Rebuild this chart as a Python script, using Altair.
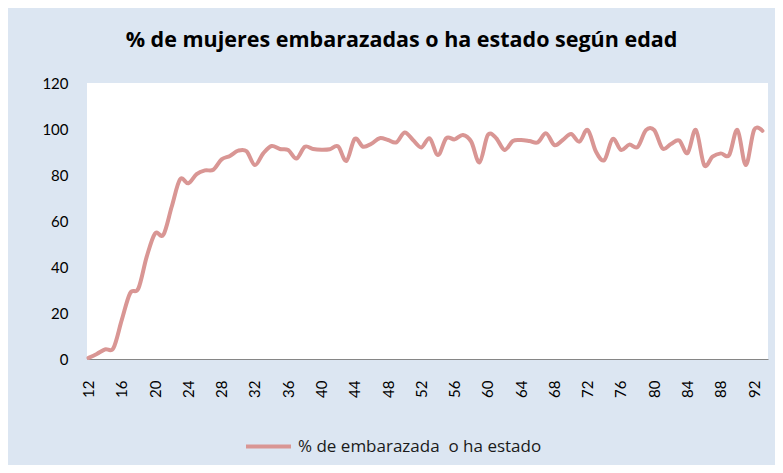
import altair as alt
import pandas as pd

# Ages (x categories)
ages = list(range(12, 94))

# % of women pregnant or who have been pregnant
values = [
    0.5, 2.2, 4.2, 4.8, 17.0, 28.6, 30.7, 44.5, 54.6, 54.0,      # 12-21
    66.2, 78.1, 76.4, 80.4, 82.0, 82.3, 86.8, 88.3, 90.6, 90.3,  # 22-31
    84.3, 89.4, 92.6, 91.3, 90.9, 87.2, 92.3, 91.3, 91.0, 91.2,  # 32-41
    92.4, 86.1, 95.7, 92.3, 93.6, 96.0, 95.2, 94.2, 98.5, 95.2,  # 42-51
    92.0, 96.0, 88.7, 96.0, 95.5, 97.4, 94.5, 85.5, 97.4, 96.0,  # 52-61
    90.9, 94.8, 95.2, 94.8, 94.2, 98.1, 93.0, 95.2, 97.8, 94.5,  # 62-71
    99.6, 90.1, 86.5, 95.7, 90.9, 93.2, 92.2, 99.5, 99.5, 91.5,  # 72-81
    93.5, 95.0, 89.5, 99.6, 84.3, 88.0, 89.4, 88.7, 99.6, 84.3,  # 82-91
    99.6, 99.2,                                                  # 92-93
]

x_ticks = list(range(12, 93, 4))
y_ticks = [0, 20, 40, 60, 80, 100, 120]

series_name = "% de embarazada\u00a0 o ha estado"
title_text = "% de mujeres embarazadas o ha estado según edad"

df = pd.DataFrame({"edad": ages, "pct": values, "serie": series_name})

FONT = "Lato"
TITLE_FONT = "Open Sans"
LINE_COLOR = "#d99694"
BG = "#dce6f2"

chart = (
    alt.Chart(df)
    .mark_line(interpolate="cardinal", strokeWidth=4, strokeCap="round", strokeJoin="round")
    .encode(
        x=alt.X(
            "edad:Q",
            scale=alt.Scale(domain=[11.82, 93.67], nice=False, zero=False),
            axis=alt.Axis(
                values=x_ticks, labelAngle=-90, title=None, grid=False, ticks=False,
                domainColor="#868686", domainWidth=1, labelFont=FONT, labelFontSize=15,
                labelColor="#000000", labelPadding=21, labelFlush=False, labelOverlap=False,
            ),
        ),
        y=alt.Y(
            "pct:Q",
            scale=alt.Scale(domain=[0, 120], nice=False),
            axis=alt.Axis(
                values=y_ticks, title=None, grid=False, ticks=False, domain=False,
                labelFont=FONT, labelFontSize=15, labelColor="#000000", labelPadding=19,
            ),
        ),
        color=alt.Color(
            "serie:N",
            scale=alt.Scale(range=[LINE_COLOR]),
            legend=alt.Legend(
                title=None, orient="none", legendX=157, legendY=339,
                symbolType="stroke", symbolSize=2025, symbolStrokeWidth=4,
                labelFont=TITLE_FONT, labelFontSize=17, labelColor="#1a1a1a", labelOffset=5,
                labelLimit=500,
            ),
        ),
    )
    .properties(
        width=681,
        height=276,
        autosize="none",
        padding={"left": 79, "top": 75, "right": 7, "bottom": 106},
        background=BG,
        title=alt.TitleParams(
            text=title_text, font=TITLE_FONT, fontSize=21.5, fontWeight="bold", color="#000000",
            anchor="middle", dx=-26, offset=25,
        ),
    )
    .configure_view(fill="white", stroke=None)
)

chart.save("out.html", embed_options={"renderer": "svg", "actions": False})
